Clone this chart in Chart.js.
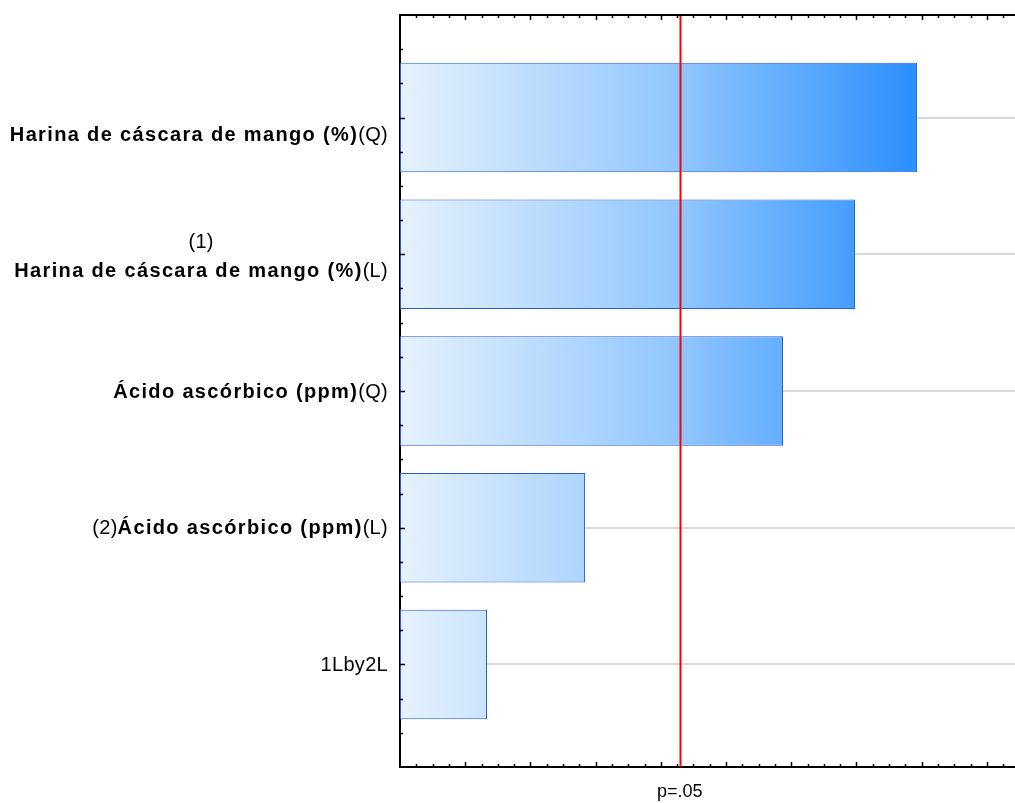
<!DOCTYPE html>
<html>
<head>
<meta charset="utf-8">
<script src="https://cdn.jsdelivr.net/npm/chart.js@4.4.1/dist/chart.umd.min.js"></script>
<style>
  html, body { margin: 0; padding: 0; background: #fff; overflow: hidden; }
  #wrap { width: 1015px; height: 803px; position: relative; }
</style>
</head>
<body>
<div id="wrap"><canvas id="paretoChart"></canvas></div>
<script>
// effects (standardized estimates), top to bottom
const effectLabels = [
    [[{ t: '', b: false }], [{ t: 'Harina de cáscara de mango (%)', b: true }, { t: '(Q)', b: false }]],
    [[{ t: '(1)', b: false }], [{ t: 'Harina de cáscara de mango (%)', b: true }, { t: '(L)', b: false }]],
    [[{ t: 'Ácido ascórbico (ppm)', b: true }, { t: '(Q)', b: false }]],
    [[{ t: '(2)', b: false }, { t: 'Ácido ascórbico (ppm)', b: true }, { t: '(L)', b: false }]],
    [[{ t: '1Lby2L', b: false }]]
];
const effectIndex = [0, 1, 2, 3, 4];
const effectValues = [3.965, 3.489, 2.937, 1.419, 0.667];
const pCritValue = 2.145;
const pCritLabel = 'p=.05';

const FONT = '"Liberation Sans", Arial, sans-serif';

const paretoCTX = document.getElementById('paretoChart');

const barData = {
    datasets: [{
        label: 'Efecto estandarizado',
        data: effectValues.map((v, i) => ({ x: v, y: effectIndex[i] })),
        backgroundColor: (context) => {
            const chart = context.chart;
            const area = chart.chartArea;
            if (!area) return '#8ec5fd';
            const xs = chart.scales.x;
            const g = chart.ctx.createLinearGradient(xs.getPixelForValue(0), 0, xs.getPixelForValue(Math.max(...effectValues)), 0);
            g.addColorStop(0, '#e6f2fe');
            g.addColorStop(0.55, '#8ec5fd');
            g.addColorStop(1, '#2a8ffc');
            return g;
        },
        borderColor: '#2a5ed2',
        borderWidth: 1,
        borderSkipped: false,
        categoryPercentage: 1,
        barPercentage: 0.8
    }]
};

// red line, inward ticks, top axis and mixed-font labels
const paretoDecor = {
    id: 'paretoDecor',
    afterDatasetsDraw(chart) {
        const { ctx, chartArea, scales } = chart;
        const xs = scales.x, ys = scales.y;
        ctx.save();
        // p=.05 line
        const px = Math.round(xs.getPixelForValue(pCritValue)) + 0.5;
        ctx.strokeStyle = '#ff0000';
        ctx.lineWidth = 2;
        ctx.beginPath();
        ctx.moveTo(px, chartArea.top);
        ctx.lineTo(px, chartArea.bottom);
        ctx.stroke();

        // top axis line
        ctx.strokeStyle = '#000';
        ctx.lineWidth = 2;
        ctx.beginPath();
        ctx.moveTo(chartArea.left - 1, chartArea.top);
        ctx.lineTo(chartArea.right, chartArea.top);
        ctx.stroke();

        // x minor ticks (top and bottom)
        ctx.lineWidth = 1.5;
        for (let k = 1; k * 0.125 <= xs.max; k++) {
            const v = k * 0.125;
            const x = Math.round(xs.getPixelForValue(v)) + 0.5;
            const len = (k % 4 === 0) ? 5 : 3;
            ctx.beginPath();
            ctx.moveTo(x, chartArea.top);
            ctx.lineTo(x, chartArea.top + len);
            ctx.moveTo(x, chartArea.bottom);
            ctx.lineTo(x, chartArea.bottom - len);
            ctx.stroke();
        }
        // y minor ticks (left)
        for (let k = -2; k * 0.25 < ys.max; k++) {
            const v = k * 0.25;
            const y = Math.round(ys.getPixelForValue(v)) + 0.5;
            const len = (k % 4 === 0) ? 5 : 3;
            ctx.beginPath();
            ctx.moveTo(chartArea.left, y);
            ctx.lineTo(chartArea.left + len, y);
            ctx.stroke();
        }

        // y labels: block right aligned, lines centred inside the block
        ctx.fillStyle = '#000';
        ctx.textBaseline = 'middle';
        ctx.textAlign = 'left';
        const rightX = chartArea.left - 12;
        const lineH = 29;
        const setFont = (s) => {
            ctx.font = (s.b ? 'bold ' : '') + '20px ' + FONT;
            ctx.letterSpacing = s.b ? '1.35px' : '0.3px';
        };
        const lineWidth = (segs) => {
            let w = 0;
            segs.forEach(s => { setFont(s); w += ctx.measureText(s.t).width; });
            return w;
        };
        effectLabels.forEach((lines, i) => {
            const cy = ys.getPixelForValue(effectIndex[i]) + (lines.length > 1 ? 3 : 1);
            const widths = lines.map(lineWidth);
            const blockW = Math.max(...widths);
            lines.forEach((segs, li) => {
                const y = cy + (li - (lines.length - 1) / 2) * lineH;
                let x = rightX - blockW + (blockW - widths[li]) / 2;
                segs.forEach(s => {
                    setFont(s);
                    ctx.fillText(s.t, x, y);
                    x += ctx.measureText(s.t).width;
                });
            });
        });
        ctx.restore();
    }
};

var options = {
    indexAxis: 'y',
    responsive: true,
    maintainAspectRatio: false,
    animation: false,
    layout: { padding: { left: 400, top: 15, right: 0, bottom: 0 } },
    plugins: {
        legend: { display: false },
        tooltip: { enabled: false }
    },
    scales: {
        x: {
            type: 'linear',
            min: 0,
            max: 4.716,
            afterBuildTicks: (scale) => { scale.ticks = [{ value: pCritValue }]; },
            afterFit: (scale) => { scale.height = 36; },
            ticks: {
                callback: () => pCritLabel,
                color: '#000',
                padding: 14,
                maxRotation: 0,
                font: { family: FONT, size: 18 }
            },
            grid: { display: false, drawTicks: false },
            border: { display: true, color: '#000', width: 2 }
        },
        y: {
            type: 'linear',
            reverse: true,
            offset: false,
            min: -0.75,
            max: 4.75,
            afterBuildTicks: (scale) => { scale.ticks = effectIndex.map(v => ({ value: v })); },
            afterFit: (scale) => { scale.width = 0; },
            ticks: { display: false },
            grid: { display: true, offset: false, drawTicks: false, color: '#d9d9d9', lineWidth: 2 },
            border: { display: true, color: '#000', width: 2 }
        }
    }
};

const paretoChart = new Chart(paretoCTX, {
    type: 'bar',
    data: barData,
    options: options,
    plugins: [paretoDecor]
});
</script>
</body>
</html>
